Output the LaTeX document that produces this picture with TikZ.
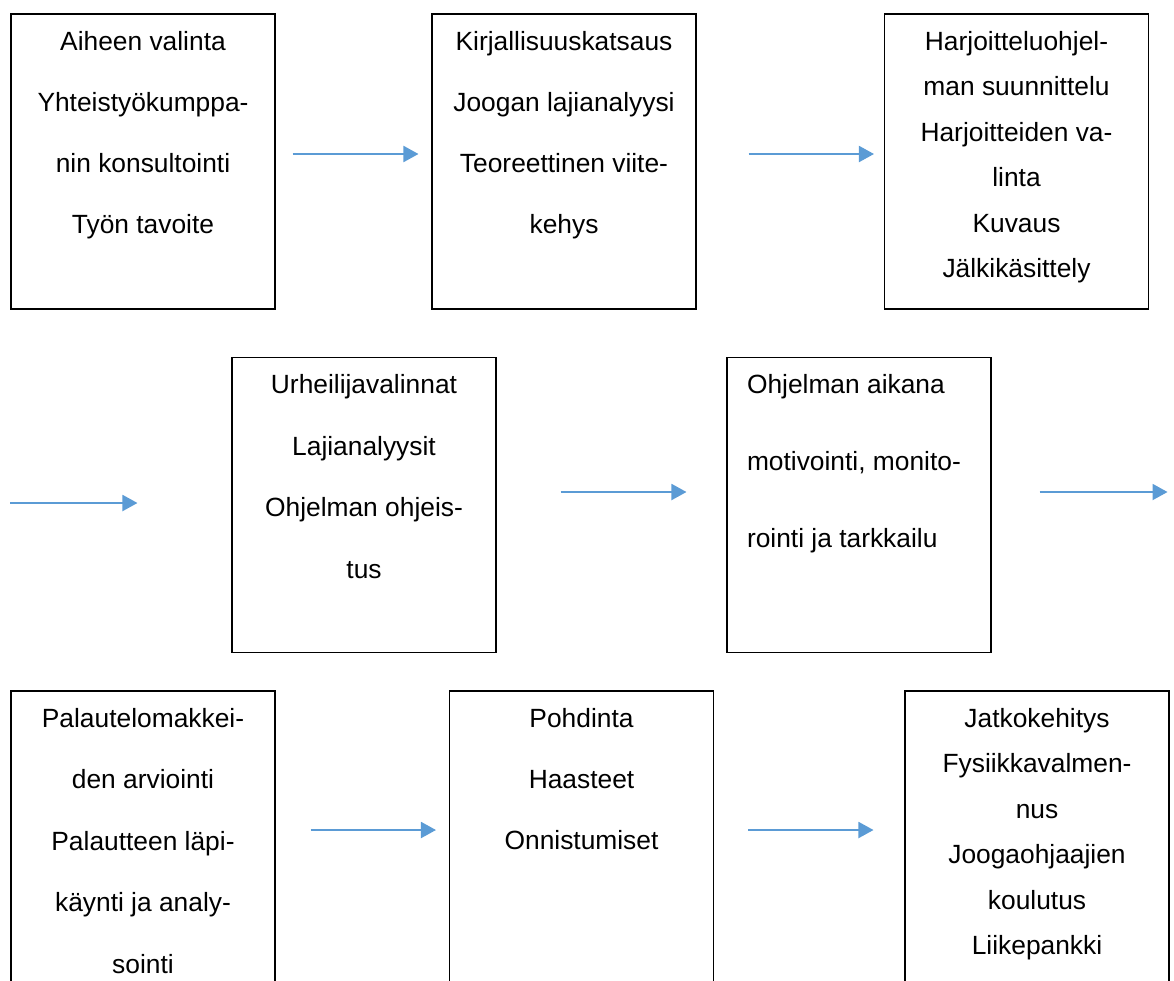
\documentclass[tikz,border=0pt]{standalone}
\usepackage{fontspec}
\setmainfont{Liberation Sans}
\usetikzlibrary{arrows.meta,positioning}

\definecolor{flowblue}{HTML}{5B9BD5}

% text of one step: alignment, line distance, lines
\newcommand{\steptext}[3]{%
  \parbox[c][5.9cm][t]{5.28cm}{#1\fontsize{15pt}{#2}\selectfont\rule{0pt}{0.72cm}#3}}

\begin{document}
\begin{tikzpicture}[
    step box/.style={rectangle, draw=black, line width=0.6pt, inner sep=0pt},
    flow arrow/.style={-{Triangle[length=0.3cm, width=0.32cm]}, draw=flowblue, line width=1.1pt},
]

\useasboundingbox (0,0) rectangle (23.48,-19.6);
\clip (0,0) rectangle (23.48,-19.6);

% === ROW 1 ===
\node[step box] (a1) at (2.86,-3.23) {\steptext{\centering}{1.22cm}{Aiheen valinta\\ Yhteistyökumppa-\\ nin konsultointi\\ Työn tavoite}};
\node[step box] (a2) at (11.28,-3.23) {\steptext{\centering}{1.22cm}{Kirjallisuuskatsaus\\ Joogan lajianalyysi\\ Teoreettinen viite-\\ kehys}};
\node[step box] (a3) at (20.33,-3.23) {\steptext{\centering}{0.91cm}{Harjoitteluohjel-\\ man suunnittelu\\ Harjoitteiden va-\\ linta\\ Kuvaus\\ Jälkikäsittely}};

\draw[flow arrow] ([shift={(0.34,0.15)}]a1.east) -- ([shift={(-0.26,0.15)}]a2.west);
\draw[flow arrow] ([shift={(1.04,0.15)}]a2.east) -- ([shift={(-0.2,0.15)}]a3.west);

% === ROW 2 ===
\node[step box] (b1) at (7.28,-10.1) {\steptext{\centering}{1.23cm}{Urheilijavalinnat\\ Lajianalyysit\\ Ohjelman ohjeis-\\ tus}};
\node[step box] (b2) at (17.18,-10.1) {\steptext{\raggedright\leftskip=0.4cm}{1.54cm}{Ohjelman aikana\\ motivointi, monito-\\ rointi ja tarkkailu}};

\draw[flow arrow] ([shift={(-4.42,0.04)}]b1.west) -- ([shift={(-1.88,0.04)}]b1.west);
\draw[flow arrow] ([shift={(1.28,0.26)}]b1.east) -- ([shift={(-0.8,0.26)}]b2.west);
\draw[flow arrow] ([shift={(0.96,0.26)}]b2.east) -- ([shift={(3.52,0.26)}]b2.east);

% === ROW 3 ===
\node[step box] (c1) at (2.86,-16.77) {\steptext{\centering}{1.23cm}{Palautelomakkei-\\ den arviointi\\ Palautteen läpi-\\ käynti ja analy-\\ sointi}};
\node[step box] (c2) at (11.63,-16.77) {\steptext{\centering}{1.22cm}{Pohdinta\\ Haasteet\\ Onnistumiset}};
\node[step box] (c3) at (20.74,-16.77) {\steptext{\centering}{0.91cm}{Jatkokehitys\\ Fysiikkavalmen-\\ nus\\ Joogaohjaajien\\ koulutus\\ Liikepankki}};

\draw[flow arrow] ([shift={(0.7,0.17)}]c1.east) -- ([shift={(-0.26,0.17)}]c2.west);
\draw[flow arrow] ([shift={(0.68,0.17)}]c2.east) -- ([shift={(-0.62,0.17)}]c3.west);

\end{tikzpicture}
\end{document}
